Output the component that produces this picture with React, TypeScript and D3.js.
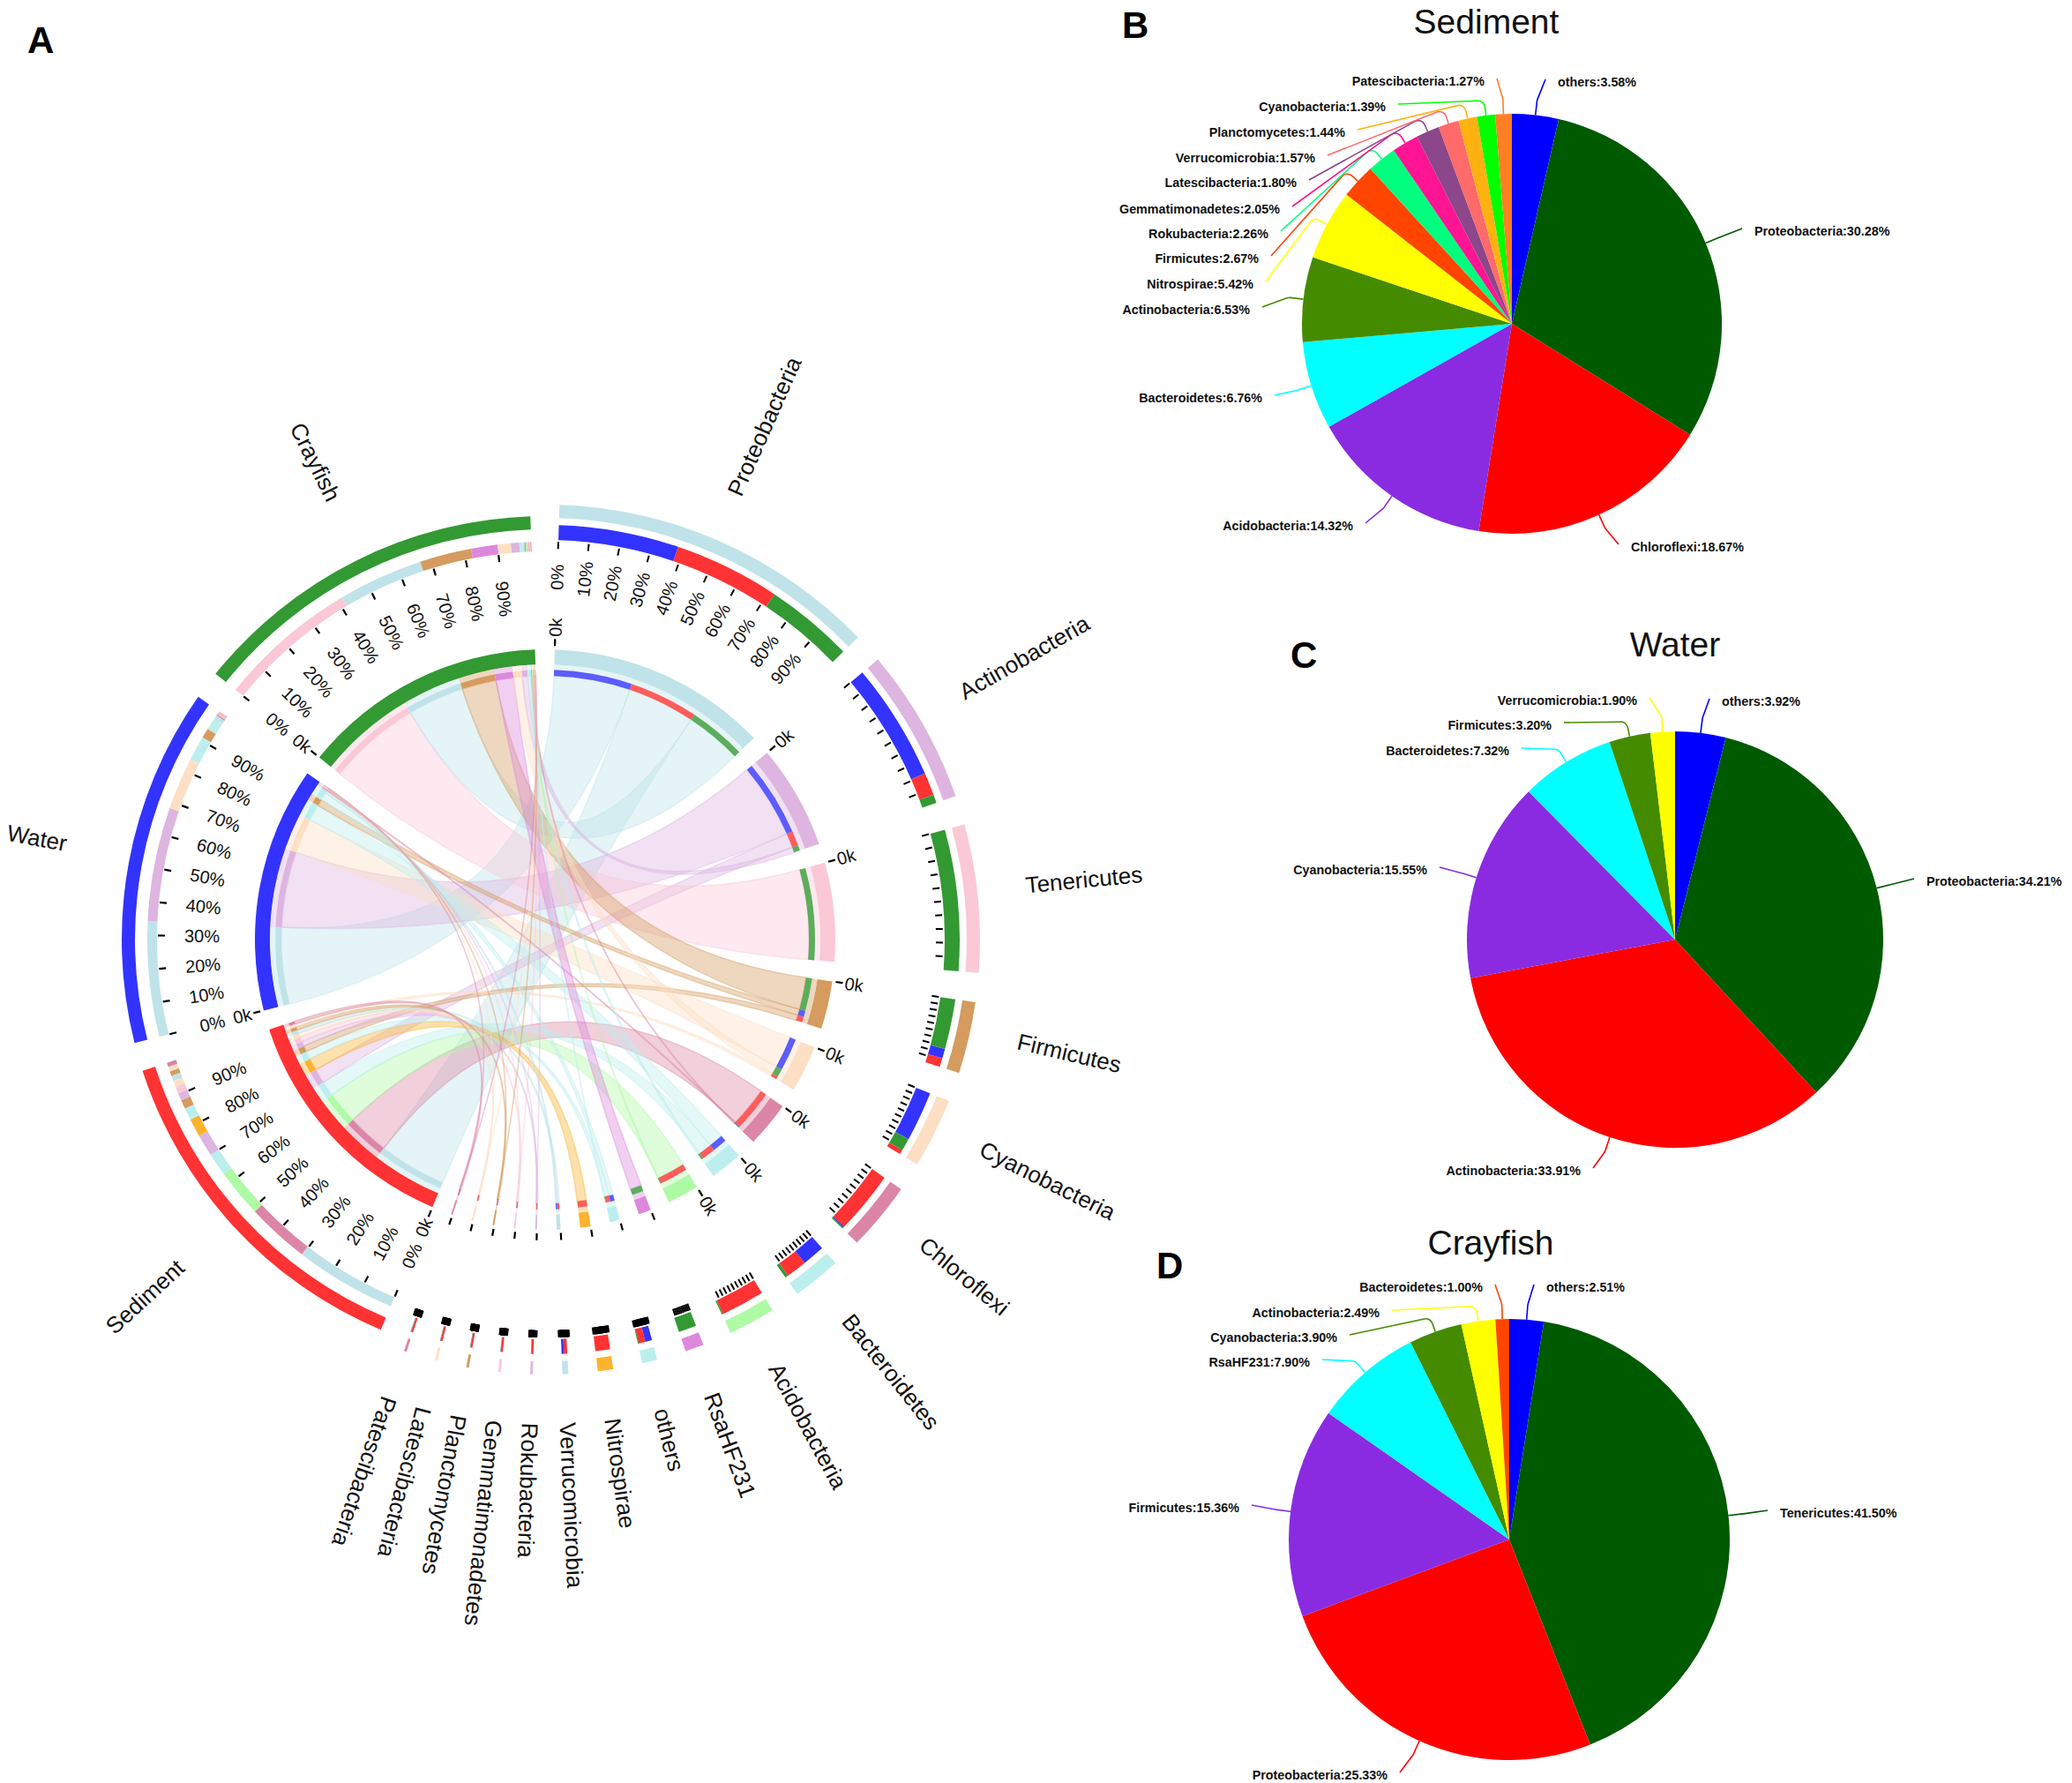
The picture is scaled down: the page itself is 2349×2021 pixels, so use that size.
import * as d3 from 'd3';

const width = 2349;
const height = 2021;
const font = '"Liberation Sans", Arial, sans-serif';

// chord: phylum sectors, clockwise from the top
const phyla = ['Proteobacteria', 'Actinobacteria', 'Tenericutes', 'Firmicutes', 'Cyanobacteria', 'Chloroflexi', 'Bacteroidetes', 'Acidobacteria', 'RsaHF231', 'others', 'Nitrospirae', 'Verrucomicrobia', 'Rokubacteria', 'Gemmatimonadetes', 'Planctomycetes', 'Latescibacteria', 'Patescibacteria'];
const phylumWidths = [89.8, 42.4, 40.2, 19.5, 19.1, 18.6, 13.2, 12.8, 5.1, 4.1, 4.2, 1.6, 0.7, 0.7, 0.7, 0.7, 0.7];
const phylumColors = ['#bfe3e9', '#ddb5e0', '#fbc8d6', '#d59b5f', '#fddfc4', '#db86a6', '#bdeeee', '#aefaa5', '#dd88dd', '#bdeeee', '#fbb32f', '#bfe3e9', '#ddb5e0', '#fbc8d6', '#d59b5f', '#fddfc4', '#db86a6'];

const samples = ['Sediment', 'Water', 'Crayfish'];
const sampleColors = ['#ff3333', '#3333ff', '#339933'];

// stacks as they are read along each sample sector
const sedimentNames = ['Proteobacteria', 'Chloroflexi', 'Acidobacteria', 'Bacteroidetes', 'Actinobacteria', 'Nitrospirae', 'others', 'Firmicutes', 'Rokubacteria', 'Gemmatimonadetes', 'Latescibacteria', 'Verrucomicrobia', 'Planctomycetes', 'Cyanobacteria', 'Patescibacteria'];
const sedimentStack = [30.28, 18.67, 14.32, 6.76, 6.53, 5.42, 3.58, 2.67, 2.26, 2.05, 1.8, 1.57, 1.44, 1.39, 1.27];
const waterNames = ['Proteobacteria', 'Actinobacteria', 'Cyanobacteria', 'Bacteroidetes', 'Firmicutes', 'others', 'Verrucomicrobia', 'Chloroflexi', 'Rokubacteria', 'Gemmatimonadetes', 'Planctomycetes', 'Latescibacteria', 'Patescibacteria'];
const waterStack = [34.21, 33.91, 15.55, 7.32, 2.9, 3.62, 1.1, 0.39, 0.2, 0.2, 0.2, 0.2, 0.2];
const crayfishNames = ['Tenericutes', 'Proteobacteria', 'Firmicutes', 'RsaHF231', 'Cyanobacteria', 'Actinobacteria', 'Bacteroidetes', 'others', 'Chloroflexi', 'Acidobacteria', 'Rokubacteria', 'Gemmatimonadetes', 'Planctomycetes', 'Latescibacteria', 'Patescibacteria'];
const crayfishStack = [41.5, 25.33, 15.36, 7.9, 3.9, 2.49, 1.0, 0.5, 0.35, 0.42, 0.25, 0.25, 0.25, 0.25, 0.25];
const sampleNames = [sedimentNames, waterNames, crayfishNames];
const sampleStacks = [sedimentStack, waterStack, crayfishStack];

const percentTicks = [0, 10, 20, 30, 40, 50, 60, 70, 80, 90];

// pies
const sedimentPieNames = ['others', 'Proteobacteria', 'Chloroflexi', 'Acidobacteria', 'Bacteroidetes', 'Actinobacteria', 'Nitrospirae', 'Firmicutes', 'Rokubacteria', 'Gemmatimonadetes', 'Latescibacteria', 'Verrucomicrobia', 'Planctomycetes', 'Cyanobacteria', 'Patescibacteria'];
const sedimentPieValues = [3.58, 30.28, 18.67, 14.32, 6.76, 6.53, 5.42, 2.67, 2.26, 2.05, 1.8, 1.57, 1.44, 1.39, 1.27];
const waterPieNames = ['others', 'Proteobacteria', 'Actinobacteria', 'Cyanobacteria', 'Bacteroidetes', 'Firmicutes', 'Verrucomicrobia'];
const waterPieValues = [3.92, 34.21, 33.91, 15.55, 7.32, 3.2, 1.9];
const crayfishPieNames = ['others', 'Tenericutes', 'Proteobacteria', 'Firmicutes', 'RsaHF231', 'Cyanobacteria', 'Actinobacteria', 'Bacteroidetes'];
const crayfishPieValues = [2.51, 41.5, 25.33, 15.36, 7.9, 3.9, 2.49, 1.0];
const pieColors = ['#0000ff', '#005a00', '#ff0000', '#8a2be2', '#00ffff', '#458b00', '#ffff00', '#ff4500', '#00ff7f', '#ff1493', '#8b4789', '#ff6a6a', '#ffb112', '#00ff00', '#ff7f24'];

// label anchors beside each pie, in slice order
const sedimentLabelAt = [[1766, 93], [1989, 262], [1849, 620], [1534, 596], [1431, 451], [1417, 351], [1421, 322], [1427, 293], [1438, 265], [1451, 237], [1470, 207], [1491, 179], [1525, 150], [1571, 121], [1683, 92]];
const waterLabelAt = [[1952, 795], [2184, 999], [1792, 1327], [1618, 986], [1711, 851], [1759, 822], [1856, 794]];
const crayfishLabelAt = [[1753, 1459], [2018, 1715], [1573, 2012], [1405, 1709], [1485, 1544], [1516, 1516], [1564, 1488], [1681, 1459]];

const cx = 618;
const cy = 1065;
const pad = (3.9 * Math.PI) / 180;
const firstAngle = (1.9 * Math.PI) / 180;
const ribbonRadius = 299;

const polar = (a: number, r: number) => [cx + r * Math.sin(a), cy - r * Math.cos(a)];

// sector layout: phyla first, samples after, one unit of value is the same angle everywhere
const sectorSizes = [...phylumWidths, 100, 100, 100];
const unit = (2 * Math.PI - pad * sectorSizes.length) / d3.sum(sectorSizes);
let cursor = firstAngle;
const sectorAngles = sectorSizes.map((size) => {
  const a0 = cursor;
  cursor += size * unit;
  const out = [a0, cursor];
  cursor += pad;
  return out;
});
const phylumScales = phyla.map((_, i) => d3.scaleLinear().domain([0, 1]).range(sectorAngles[i]));
const sampleScales = samples.map((_, i) => d3.scaleLinear().domain([0, 100]).range(sectorAngles[phyla.length + i]));

// flows per sample, cumulated
const flows: any[] = [];
samples.forEach((_, s) => {
  let acc = 0;
  sampleStacks[s].forEach((v, k) => {
    flows.push({ sample: s, phylum: phyla.indexOf(sampleNames[s][k]), value: v, s0: acc, s1: acc + v });
    acc += v;
  });
});
// on the phylum side each flow takes its share, biggest first
phyla.forEach((_, p) => {
  const list = flows.filter((f) => f.phylum === p).sort((a, b) => b.value - a.value);
  const total = d3.sum(list, (f) => f.value);
  let acc = 0;
  list.forEach((f) => {
    f.p0 = acc / total;
    acc += f.value;
    f.p1 = acc / total;
  });
});

const arc = d3.arc<any>();
const band = (r0: number, r1: number, a0: number, a1: number) =>
  arc({ innerRadius: r0, outerRadius: r1, startAngle: a0, endAngle: a1 }) as string;
const ribbon = d3.ribbon<any, any>().radius(ribbonRadius);

function Tick({ a, r0, r1, w = 2.2 }: { a: number; r0: number; r1: number; w?: number }) {
  const [x1, y1] = polar(a, r0);
  const [x2, y2] = polar(a, r1);
  return <line x1={x1} y1={y1} x2={x2} y2={y2} stroke="#000" strokeWidth={w} />;
}

function RadialText({ a, r, text, outward, size, anchor = 'middle', dy = '.35em' }: { a: number; r: number; text: string; outward: boolean; size: number; anchor?: string; dy?: string }) {
  const [x, y] = polar(a, r);
  const deg = (a * 180) / Math.PI + (outward ? -90 : 90);
  return (
    <text transform={`translate(${x},${y}) rotate(${deg})`} textAnchor={anchor} dy={dy} fontSize={size} fontFamily={font} fill="#111">
      {text}
    </text>
  );
}

function Chord() {
  return (
    <g>
      {/* ribbons */}
      {flows.map((f, i) => {
        const path = ribbon({
          source: { startAngle: sampleScales[f.sample](f.s0), endAngle: sampleScales[f.sample](f.s1) },
          target: { startAngle: phylumScales[f.phylum](f.p0), endAngle: phylumScales[f.phylum](f.p1) },
        }) as unknown as string;
        return <path key={i} d={path} transform={`translate(${cx},${cy})`} fill={phylumColors[f.phylum]} fillOpacity={0.4} stroke={phylumColors[f.phylum]} strokeOpacity={0.4} strokeWidth={1.5} />;
      })}
      <g transform={`translate(${cx},${cy})`}>
        {/* phylum side */}
        {phyla.map((name, p) => {
          const [a0, a1] = sectorAngles[p];
          return (
            <g key={name}>
              <path d={band(478, 493, a0, a1)} fill={phylumColors[p]} />
              <path d={band(312, 329, a0, a1)} fill={phylumColors[p]} />
              <path d={band(306, 312, a0, a1)} fill={phylumColors[p]} fillOpacity={0.4} />
            </g>
          );
        })}
        {flows.map((f, i) => {
          const a0 = phylumScales[f.phylum](f.p0);
          const a1 = phylumScales[f.phylum](f.p1);
          return (
            <g key={i}>
              <path d={band(453, 470, a0, a1)} fill={sampleColors[f.sample]} />
              <path d={band(299, 306, a0, a1)} fill={sampleColors[f.sample]} fillOpacity={0.8} />
            </g>
          );
        })}
        {/* sample side */}
        {samples.map((name, s) => {
          const [a0, a1] = sectorAngles[phyla.length + s];
          return (
            <g key={name}>
              <path d={band(465, 480, a0, a1)} fill={sampleColors[s]} />
              <path d={band(312, 329, a0, a1)} fill={sampleColors[s]} />
            </g>
          );
        })}
        {flows.map((f, i) => {
          const a0 = sampleScales[f.sample](f.s0);
          const a1 = sampleScales[f.sample](f.s1);
          return (
            <g key={i}>
              <path d={band(440, 451, a0, a1)} fill={phylumColors[f.phylum]} />
              <path d={band(306, 312, a0, a1)} fill={phylumColors[f.phylum]} fillOpacity={0.4} />
              <path d={band(299, 306, a0, a1)} fill={phylumColors[f.phylum]} />
            </g>
          );
        })}
      </g>
      {/* phylum ticks and labels */}
      {phyla.map((name, p) => {
        const [a0, a1] = sectorAngles[p];
        const mid = (a0 + a1) / 2;
        const px = (a1 - a0) * 460;
        const w = px > 20 ? 2 : px > 10 ? 5 : 8;
        return (
          <g key={name}>
            {percentTicks.map((t) => {
              const a = phylumScales[p](t / 100);
              return (
                <g key={t}>
                  <Tick a={a} r0={443} r1={451} w={w} />
                  {p === 0 && <RadialText a={a} r={411} text={`${t}%`} outward size={20} />}
                </g>
              );
            })}
            <Tick a={a0} r0={333} r1={341} />
            {p < 8 && <RadialText a={a0} r={354} text="0k" outward size={20} />}
            <RadialText a={mid} r={548} text={name} outward size={26} anchor="start" dy={mid > 2.4 ? '.35em' : '0'} />
          </g>
        );
      })}
      {/* sample ticks and labels */}
      {samples.map((name, s) => {
        const [a0, a1] = sectorAngles[phyla.length + s];
        return (
          <g key={name}>
            {percentTicks.map((t) => {
              const a = sampleScales[s](t);
              return (
                <g key={t}>
                  <Tick a={a} r0={431} r1={439} />
                  <RadialText a={a} r={389} text={`${t}%`} outward={false} size={20} />
                </g>
              );
            })}
            <Tick a={a0} r0={333} r1={341} />
            <RadialText a={a0} r={354} text="0k" outward={false} size={20} />
            <RadialText a={(a0 + a1) / 2} r={553} text={name} outward={false} size={26} anchor="end" dy="0" />
          </g>
        );
      })}
    </g>
  );
}

function Pie({ names, values, labelAt, x, y, r }: { names: string[]; values: number[]; labelAt: number[][]; x: number; y: number; r: number }) {
  const slices = d3.pie<number>().sort(null)(values);
  const sliceArc = d3.arc<any>().innerRadius(0).outerRadius(r);
  return (
    <g>
      {slices.map((d, i) => (
        <path key={i} d={sliceArc(d) as string} transform={`translate(${x},${y})`} fill={pieColors[i]} />
      ))}
      {slices.map((d, i) => {
        const mid = (d.startAngle + d.endAngle) / 2;
        const [lx, ly] = labelAt[i];
        const onRight = lx > x && (i === 0 || mid < Math.PI);
        const sx = x + r * Math.sin(mid);
        const sy = y - r * Math.cos(mid);
        const ex = x + (r + 17) * Math.sin(mid);
        const ey = y - (r + 17) * Math.cos(mid);
        const tx = lx + (onRight ? -14 : 14);
        const ty = ly - 3;
        const leader = d3.path();
        leader.moveTo(sx, sy);
        leader.arcTo(ex, ey, tx, ty, 8);
        leader.lineTo(tx, ty);
        return (
          <g key={i}>
            <path d={leader.toString()} fill="none" stroke={pieColors[i]} strokeWidth={1.6} />
            <text x={lx} y={ly} dy=".35em" textAnchor={onRight ? 'start' : 'end'} fontSize={14.3} fontWeight="bold" fontFamily={font} fill="#111">
              {`${names[i]}:${values[i].toFixed(2)}%`}
            </text>
          </g>
        );
      })}
    </g>
  );
}

function Title({ x, y, text }: { x: number; y: number; text: string }) {
  return (
    <text x={x} y={y} textAnchor="middle" fontSize={39} fontFamily={font} fill="#111">
      {text}
    </text>
  );
}

function Letter({ x, y, text }: { x: number; y: number; text: string }) {
  return (
    <text x={x} y={y} fontSize={42} fontWeight="bold" fontFamily={font} fill="#000">
      {text}
    </text>
  );
}

export default function App() {
  return (
    <svg width={width} height={height} viewBox={`0 0 ${width} ${height}`} style={{ position: 'absolute', left: 0, top: 0, background: '#fff' }}>
      <Letter x={31} y={60} text="A" />
      <Letter x={1272} y={43} text="B" />
      <Letter x={1463} y={757} text="C" />
      <Letter x={1311} y={1449} text="D" />
      <Chord />
      <Title x={1685} y={38} text="Sediment" />
      <Title x={1899} y={744} text="Water" />
      <Title x={1690} y={1422} text="Crayfish" />
      <Pie names={sedimentPieNames} values={sedimentPieValues} labelAt={sedimentLabelAt} x={1714} y={367} r={238} />
      <Pie names={waterPieNames} values={waterPieValues} labelAt={waterLabelAt} x={1899} y={1065} r={236} />
      <Pie names={crayfishPieNames} values={crayfishPieValues} labelAt={crayfishLabelAt} x={1711} y={1745} r={250} />
    </svg>
  );
}
